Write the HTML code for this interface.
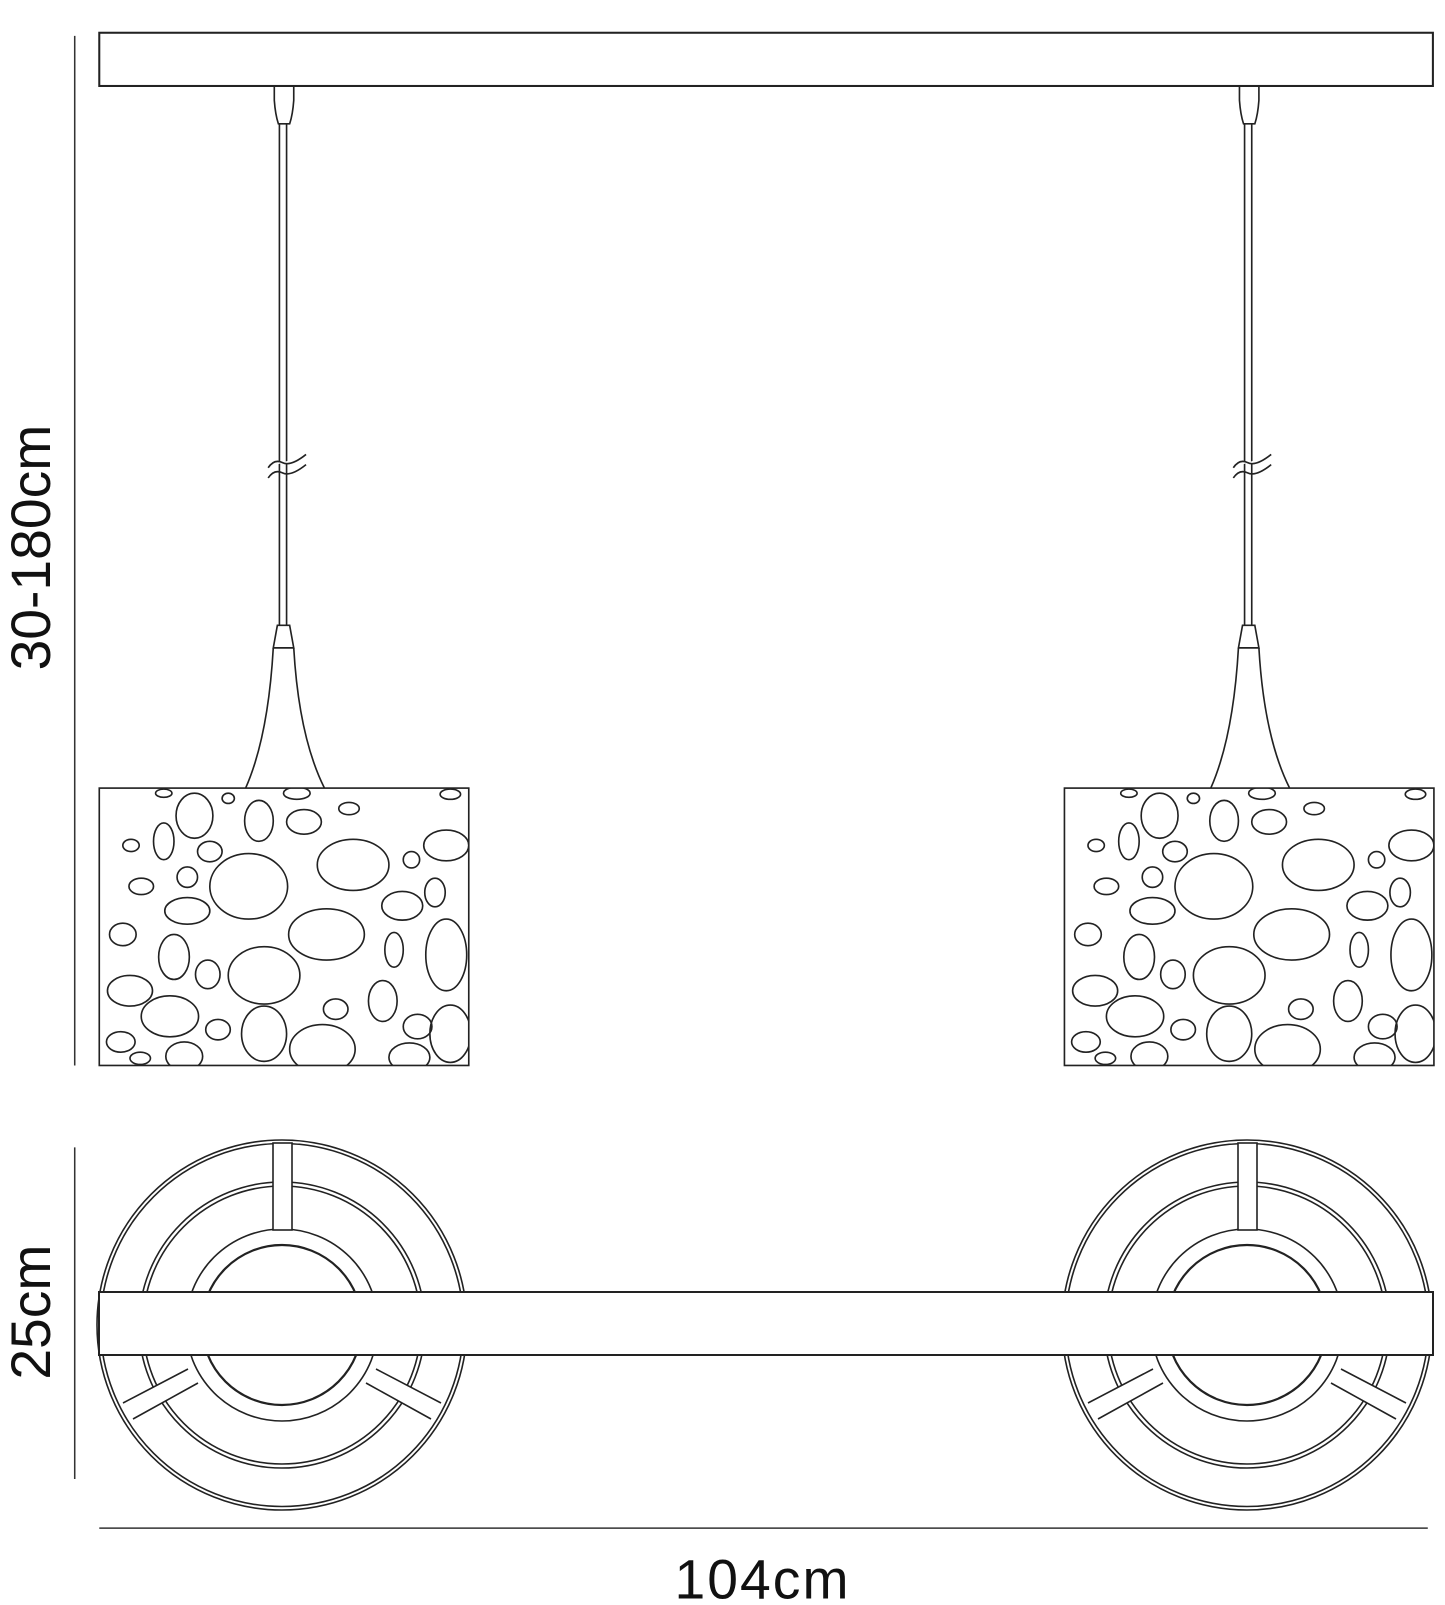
<!DOCTYPE html><html><head><style>body{margin:0;background:#fff}svg{display:block}</style></head><body>
<svg width="1445" height="1605" viewBox="0 0 1445 1605" xmlns="http://www.w3.org/2000/svg">
<defs>
<clipPath id="cl"><rect x="97" y="770" width="361" height="271"/></clipPath>
<g id="pat" fill="none" stroke="#222" stroke-width="1.6">
<ellipse cx="128" cy="826" rx="8" ry="6"/><ellipse cx="160" cy="822" rx="10" ry="18"/><ellipse cx="190" cy="797" rx="18" ry="22"/><ellipse cx="205" cy="832" rx="12" ry="10"/><ellipse cx="183" cy="857" rx="10" ry="10"/><ellipse cx="138" cy="866" rx="12" ry="8"/><ellipse cx="243" cy="866" rx="38" ry="32"/><ellipse cx="253" cy="802" rx="14" ry="20"/><ellipse cx="297" cy="803" rx="17" ry="12"/><ellipse cx="341" cy="790" rx="10" ry="6"/><ellipse cx="345" cy="845" rx="35" ry="25"/><ellipse cx="402" cy="840" rx="8" ry="8"/><ellipse cx="436" cy="826" rx="22" ry="15"/><ellipse cx="425" cy="872" rx="10" ry="14"/><ellipse cx="393" cy="885" rx="20" ry="14"/><ellipse cx="183" cy="890" rx="22" ry="13"/><ellipse cx="319" cy="913" rx="37" ry="25"/><ellipse cx="385" cy="928" rx="9" ry="17"/><ellipse cx="436" cy="933" rx="20" ry="35"/><ellipse cx="120" cy="913" rx="13" ry="11"/><ellipse cx="170" cy="935" rx="15" ry="22"/><ellipse cx="203" cy="952" rx="12" ry="14"/><ellipse cx="258" cy="953" rx="35" ry="28"/><ellipse cx="127" cy="968" rx="22" ry="15"/><ellipse cx="374" cy="978" rx="14" ry="20"/><ellipse cx="328" cy="986" rx="12" ry="10"/><ellipse cx="166" cy="993" rx="28" ry="20"/><ellipse cx="213" cy="1006" rx="12" ry="10"/><ellipse cx="258" cy="1010" rx="22" ry="27"/><ellipse cx="315" cy="1025" rx="32" ry="24"/><ellipse cx="408" cy="1003" rx="14" ry="12"/><ellipse cx="440" cy="1010" rx="20" ry="28"/><ellipse cx="118" cy="1018" rx="14" ry="10"/><ellipse cx="137" cy="1034" rx="10" ry="6"/><ellipse cx="180" cy="1032" rx="18" ry="14"/><ellipse cx="400" cy="1033" rx="20" ry="14"/><ellipse cx="290" cy="775" rx="13" ry="6"/><ellipse cx="223" cy="780" rx="6" ry="5"/><ellipse cx="440" cy="776" rx="10" ry="5"/><ellipse cx="160" cy="775" rx="8" ry="4"/>
</g>
<g id="hang" fill="none" stroke="#222" stroke-width="1.6">
<path d="M268 84 L268 98 Q269 112 272 121 L283 121 Q286 112 287 98 L287 84"/>
<line x1="273" y1="121" x2="273" y2="611"/><line x1="280" y1="121" x2="280" y2="611"/>
<path d="M262 457 Q268 448 276 452 Q284 456 299 444" fill="#fff"/><path d="M262 467 Q268 458 276 462 Q284 466 299 454"/>
<path d="M271 611 L283 611 L287 633 L267 633 Z" fill="#fff"/>
<path d="M267 633 Q262 720 240 770 M287 633 Q292 720 317 770"/>
<rect x="97" y="770" width="361" height="271"/>
<g clip-path="url(#cl)"><use href="#pat"/></g>
</g>
<g id="top" fill="none" stroke="#222" stroke-width="1.6">
<circle cx="282" cy="1325" r="185"/><circle cx="282" cy="1325" r="181.5"/>
<circle cx="282" cy="1325" r="143"/><circle cx="282" cy="1325" r="139"/>
<circle cx="282" cy="1325" r="96" fill="#fff"/><circle cx="282" cy="1325" r="80" stroke-width="2.2"/>
<rect x="273" y="1143" width="19" height="87" fill="#fff"/>
<polygon points="123,1403 188,1369 198,1383 133,1419" fill="#fff" stroke="none"/>
<path d="M123 1403 L188 1369 M133 1419 L198 1383"/>
<polygon points="441,1403 376,1369 366,1383 431,1419" fill="#fff" stroke="none"/>
<path d="M441 1403 L376 1369 M431 1419 L366 1383"/>
</g>
</defs>
<g transform="scale(1.0235)">
<rect x="97" y="32" width="1303" height="52" fill="none" stroke="#222" stroke-width="2"/>
<use href="#hang"/><use href="#hang" x="943"/>
<g stroke="#333" stroke-width="1.5">
<line x1="73" y1="35" x2="73" y2="1041"/><line x1="73" y1="1121" x2="73" y2="1445"/><line x1="97" y1="1493" x2="1395" y2="1493"/>
</g>
<g font-family="Liberation Sans, sans-serif" font-size="54" fill="#111" text-anchor="middle">
<text transform="translate(49,535) rotate(-90)">30-180cm</text>
<text transform="translate(49,1282) rotate(-90)">25cm</text>
<text x="745" y="1562" letter-spacing="2">104cm</text>
</g>
</g>
<use href="#top"/><use href="#top" x="965"/>
<rect x="99" y="1292" width="1334" height="63" fill="#fff" stroke="#222" stroke-width="2"/>
</svg>
</body></html>
